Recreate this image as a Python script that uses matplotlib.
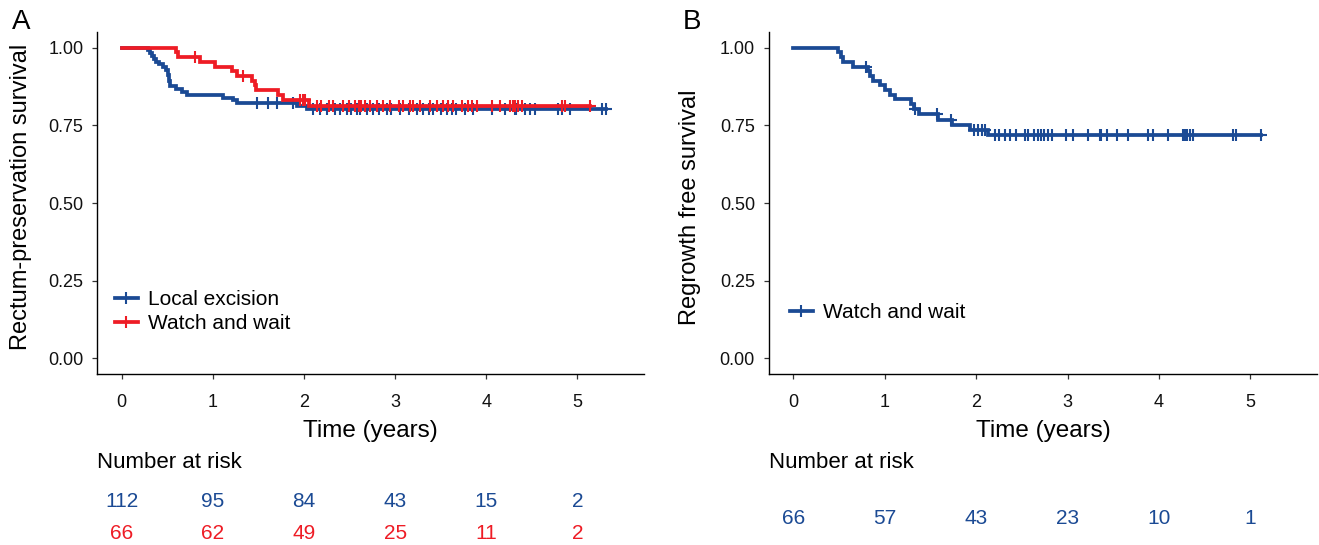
import matplotlib
matplotlib.use('Agg')
import matplotlib.pyplot as plt
from matplotlib.lines import Line2D
from matplotlib.transforms import blended_transform_factory
import numpy as np

plt.rcParams['font.family'] = ['Liberation Sans', 'DejaVu Sans']

BLUE = '#1B4A94'
RED = '#EE1C25'

# panel A - local excision (step times / survival after step)
le_time = [0, 0.29, 0.31, 0.33, 0.35, 0.38, 0.41, 0.455, 0.485, 0.505, 0.51, 0.515,
           0.52, 0.525, 0.53, 0.60, 0.657, 0.712, 1.115, 1.225, 1.26, 1.92, 2.03]
le_surv = [1.0, 0.991, 0.982, 0.973, 0.964, 0.955, 0.946, 0.938, 0.929, 0.920, 0.911, 0.902,
           0.893, 0.884, 0.875, 0.866, 0.857, 0.848, 0.839, 0.830, 0.821, 0.812, 0.803]
le_cens = [1.48, 1.61, 1.70, 1.88, 2.10, 2.18, 2.25, 2.34, 2.39, 2.47, 2.52, 2.58, 2.61,
           2.69, 2.76, 2.82, 2.91, 2.96, 3.05, 3.15, 3.24, 3.31, 3.37, 3.42, 3.50, 3.57,
           3.62, 3.67, 3.77, 3.86, 4.06, 4.21, 4.32, 4.33, 4.43, 4.48, 4.54, 4.79, 4.83,
           4.92, 5.27, 5.32]

# panel A - watch and wait
ww_time = [0, 0.60, 0.62, 0.86, 1.02, 1.21, 1.26, 1.425, 1.46, 1.47, 1.72, 1.77, 2.05]
ww_surv = [1.0, 0.985, 0.970, 0.954, 0.939, 0.924, 0.909, 0.893, 0.878, 0.862, 0.846, 0.830, 0.812]
ww_cens = [0.80, 1.33, 1.96, 1.99, 2.01, 2.14, 2.19, 2.27, 2.32, 2.43, 2.49, 2.56, 2.60,
           2.63, 2.67, 2.72, 2.80, 2.87, 2.94, 3.04, 3.09, 3.16, 3.20, 3.27, 3.38, 3.46,
           3.53, 3.58, 3.64, 3.73, 3.80, 3.84, 3.90, 4.06, 4.15, 4.26, 4.29, 4.32, 4.35,
           4.39, 4.83, 4.87, 5.14]

# panel B - regrowth free, watch and wait
wb_time = [0, 0.49, 0.52, 0.545, 0.655, 0.81, 0.84, 0.87, 0.946, 1.0, 1.055, 1.11,
           1.29, 1.32, 1.37, 1.58, 1.73, 1.93, 2.13]
wb_surv = [1.0, 0.985, 0.970, 0.955, 0.939, 0.924, 0.909, 0.894, 0.879, 0.864, 0.848, 0.833,
           0.817, 0.801, 0.785, 0.768, 0.750, 0.735, 0.720]
wb_cens = [0.79, 1.33, 1.57, 1.72, 1.97, 2.02, 2.06, 2.09, 2.20, 2.25, 2.31, 2.37, 2.43,
           2.53, 2.57, 2.63, 2.67, 2.71, 2.74, 2.78, 2.83, 2.98, 3.06, 3.22, 3.35, 3.37,
           3.43, 3.54, 3.66, 3.88, 3.93, 4.10, 4.26, 4.28, 4.31, 4.34, 4.37, 4.81, 4.84, 5.12]

risk_times = [0, 1, 2, 3, 4, 5]
le_risk = [112, 95, 84, 43, 15, 2]
ww_risk = [66, 62, 49, 25, 11, 2]
wb_risk = [66, 57, 43, 23, 10, 1]

W, H = 1319, 545
LW = 2.7


def km(ax, t, s, cens, color):
    t = np.asarray(t)
    s = np.asarray(s)
    c = np.asarray(cens)
    end = max(t.max(), c.max())
    ax.step(np.append(t, end), np.append(s, s[-1]), where='post', color=color, lw=LW,
            solid_joinstyle='miter')
    idx = np.searchsorted(t, c, side='right') - 1
    ax.plot(c, s[idx], ls='none', marker='+', ms=9, mew=1.5, color=color)


def style(ax):
    ax.set_xlim(-0.27, 5.73)
    ax.set_ylim(-0.05, 1.05)
    ax.set_xticks(risk_times)
    ax.set_yticks([0, 0.25, 0.5, 0.75, 1.0])
    ax.set_yticklabels(['0.00', '0.25', '0.50', '0.75', '1.00'])
    ax.spines['top'].set_visible(False)
    ax.spines['right'].set_visible(False)
    for s in ['left', 'bottom']:
        ax.spines[s].set_linewidth(1.0)
    ax.tick_params(length=3.5, width=0.9, color='#333333', labelsize=13, labelcolor='#111111')
    ax.tick_params(axis='x', pad=11)
    ax.tick_params(axis='y', pad=6.5)
    ax.set_xlabel('Time (years)', fontsize=17.5)
    ax.xaxis.set_label_coords(0.5, -0.135)


fig = plt.figure(figsize=(W / 100, H / 100), dpi=100)
axA = fig.add_axes([97.2 / W, 1 - 374 / H, 546.6 / W, 342 / H])
axB = fig.add_axes([768.8 / W, 1 - 374 / H, 548.4 / W, 342 / H])

km(axA, le_time, le_surv, le_cens, BLUE)
km(axA, ww_time, ww_surv, ww_cens, RED)
km(axB, wb_time, wb_surv, wb_cens, BLUE)
style(axA)
style(axB)

hA = [Line2D([], [], color=BLUE, lw=LW, marker='+', ms=9, mew=1.5),
      Line2D([], [], color=RED, lw=LW, marker='+', ms=9, mew=1.5)]
axA.legend(hA, ['Local excision', 'Watch and wait'], loc='upper left',
           bbox_to_anchor=(0.0326, 0.245), frameon=False, fontsize=15, borderpad=0,
           borderaxespad=0, handlelength=1.1, handletextpad=0.5, labelspacing=0.25)
hB = [Line2D([], [], color=BLUE, lw=LW, marker='+', ms=9, mew=1.5)]
axB.legend(hB, ['Watch and wait'], loc='upper left', bbox_to_anchor=(0.0387, 0.207),
           frameon=False, fontsize=15, borderpad=0, borderaxespad=0, handlelength=1.1,
           handletextpad=0.5)

fig.text(21 / W, 1 - 197 / H, 'Rectum-preservation survival', rotation=90, ha='center',
         va='center', fontsize=17)
fig.text(690 / W, 1 - 207 / H, 'Regrowth free survival', rotation=90, ha='center',
         va='center', fontsize=17)
fig.text(12 / W, 1 - 9 / H, 'A', fontsize=20, va='top')
fig.text(683 / W, 1 - 9 / H, 'B', fontsize=20, va='top')

# number at risk tables
fig.text(97 / W, 1 - 468 / H, 'Number at risk', fontsize=16, va='baseline')
fig.text(769 / W, 1 - 468 / H, 'Number at risk', fontsize=16, va='baseline')
trA = blended_transform_factory(axA.transData, fig.transFigure)
trB = blended_transform_factory(axB.transData, fig.transFigure)
for x, a, b in zip(risk_times, le_risk, ww_risk):
    axA.text(x, 1 - 507 / H, str(a), transform=trA, ha='center', va='baseline',
             color=BLUE, fontsize=15)
    axA.text(x, 1 - 539 / H, str(b), transform=trA, ha='center', va='baseline',
             color=RED, fontsize=15)
for x, n in zip(risk_times, wb_risk):
    axB.text(x, 1 - 524 / H, str(n), transform=trB, ha='center', va='baseline',
             color=BLUE, fontsize=15)

fig.savefig('out.png', dpi=100)
